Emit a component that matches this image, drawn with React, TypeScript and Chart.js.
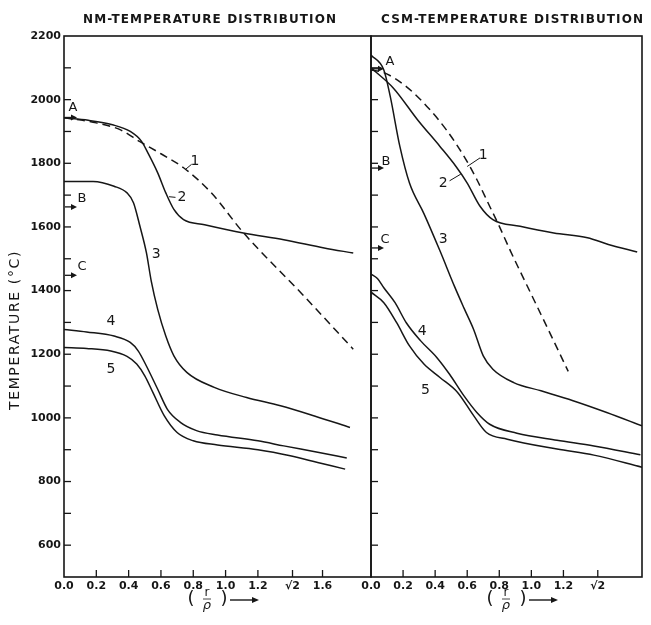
import React, { useEffect, useRef } from 'react';
import { Chart, registerables } from 'chart.js';

Chart.register(...registerables);

// ---------------- shared axis values ----------------
const yMin = 500;
const yMax = 2200;
const yMinorStep = 100;
const yLabelStep = 200;
const yFirstLabel = 600;
const yTitle = 'TEMPERATURE (°C)';

// ---------------- NM panel ----------------
const nmTitle = 'NM-TEMPERATURE DISTRIBUTION';
const nmXMax = 1.9;
const nmXTickValues = [0, 0.2, 0.4, 0.6, 0.8, 1.0, 1.2, Math.SQRT2, 1.6];
const nmXTickLabels = ['0.0', '0.2', '0.4', '0.6', '0.8', '1.0', '1.2', '√2', '1.6'];

const nm1X = [0, 0.2, 0.35, 0.47, 0.6, 0.74, 0.91, 1.11, 1.47, 1.79];
const nm1Y = [1943, 1927, 1905, 1868, 1830, 1786, 1708, 1582, 1391, 1216];

const nm2X = [0, 0.15, 0.3, 0.41, 0.48, 0.52, 0.58, 0.63, 0.68, 0.74, 0.87, 1.11, 1.36, 1.61, 1.79];
const nm2Y = [1943, 1935, 1921, 1900, 1869, 1832, 1770, 1707, 1655, 1623, 1607, 1581, 1560, 1534, 1518];

const nm3X = [0, 0.18, 0.31, 0.39, 0.43, 0.47, 0.51, 0.54, 0.58, 0.63, 0.68, 0.76, 0.93, 1.13, 1.34, 1.55, 1.77];
const nm3Y = [1743, 1743, 1728, 1707, 1676, 1602, 1519, 1430, 1341, 1257, 1195, 1143, 1096, 1064, 1038, 1006, 970];

const nm4X = [0, 0.14, 0.31, 0.41, 0.46, 0.51, 0.58, 0.64, 0.72, 0.82, 0.95, 1.2, 1.36, 1.57, 1.75];
const nm4Y = [1278, 1270, 1257, 1237, 1210, 1163, 1090, 1027, 986, 960, 946, 928, 912, 892, 874];

const nm5X = [0, 0.14, 0.29, 0.39, 0.45, 0.5, 0.55, 0.62, 0.7, 0.8, 0.95, 1.2, 1.4, 1.57, 1.74];
const nm5Y = [1221, 1218, 1210, 1193, 1169, 1132, 1080, 1007, 954, 928, 915, 900, 881, 860, 839];

const nmMarkerNames = ['A', 'B', 'C'];
const nmMarkerValues = [1944, 1663, 1448];

// ---------------- CSM panel ----------------
const csmTitle = 'CSM-TEMPERATURE DISTRIBUTION';
const csmXMax = 1.69;
const csmXTickValues = [0, 0.2, 0.4, 0.6, 0.8, 1.0, 1.2, Math.SQRT2];
const csmXTickLabels = ['0.0', '0.2', '0.4', '0.6', '0.8', '1.0', '1.2', '√2'];

const csm1X = [0, 0.08, 0.22, 0.35, 0.47, 0.58, 0.66, 0.74, 0.79, 0.87, 0.97, 1.06, 1.16, 1.23];
const csm1Y = [2093, 2085, 2041, 1978, 1905, 1822, 1749, 1665, 1613, 1524, 1419, 1325, 1220, 1146];

const csm2X = [0, 0.14, 0.29, 0.43, 0.53, 0.6, 0.68, 0.76, 0.93, 1.14, 1.35, 1.48, 1.66];
const csm2Y = [2100, 2036, 1937, 1853, 1790, 1738, 1665, 1623, 1602, 1581, 1566, 1545, 1521];

const csm3X = [0, 0.08, 0.12, 0.18, 0.24, 0.33, 0.43, 0.52, 0.58, 0.64, 0.7, 0.76, 0.89, 1.06, 1.26, 1.47, 1.69];
const csm3Y = [2140, 2093, 2010, 1853, 1738, 1642, 1525, 1414, 1345, 1278, 1195, 1153, 1111, 1085, 1054, 1017, 975];

const csm4X = [0, 0.04, 0.08, 0.15, 0.22, 0.31, 0.41, 0.49, 0.58, 0.66, 0.74, 0.91, 1.16, 1.39, 1.68];
const csm4Y = [1452, 1438, 1409, 1362, 1299, 1242, 1190, 1137, 1069, 1017, 980, 952, 930, 912, 884];

const csm5X = [0, 0.08, 0.16, 0.24, 0.33, 0.43, 0.54, 0.64, 0.72, 0.85, 1.16, 1.39, 1.69];
const csm5Y = [1395, 1362, 1299, 1226, 1169, 1127, 1080, 1007, 954, 933, 902, 883, 845];

const csmMarkerNames = ['A', 'B', 'C'];
const csmMarkerValues = [2097, 1785, 1534];

// ---------------- curve labels (data coordinates) ----------------
const curveNames = ['1', '2', '3', '4', '5'];
const nmLabelX = [0.81, 0.73, 0.57, 0.29, 0.29];
const nmLabelY = [1805, 1692, 1513, 1303, 1153];
const csmLabelX = [0.7, 0.45, 0.45, 0.32, 0.34];
const csmLabelY = [1824, 1736, 1560, 1273, 1085];

// leader lines for labels 1 and 2: [x1, y1, x2, y2] in data coords
const nmLeaders = [
  [0.75, 1780, 0.79, 1797],
  [0.65, 1695, 0.69, 1693],
];
const csmLeaders = [
  [0.6, 1790, 0.68, 1817],
  [0.49, 1745, 0.56, 1766],
];

// ---------------- styling ----------------
const INK = '#161616';
const FAMILY = '"DejaVu Sans", sans-serif';
const W = 651;
const H = 625;
const PLOT_TOP = 36;
const X_AXIS_H = 48;

type Panel = {
  id: string;
  title: string;
  titleX: number;
  xMax: number;
  xTicks: number[];
  xLabels: string[];
  series: { x: number[]; y: number[]; dashed: boolean }[];
  markerNames: string[];
  markerValues: number[];
  markerLetterDx: number[];
  markerLetterDy: number[];
  labelX: number[];
  labelY: number[];
  leaders: number[][];
  showY: boolean;
  padding: { left: number; right: number; top: number; bottom: number };
  xTitleX: number;
};

const panels: Panel[] = [
  {
    id: 'nm',
    title: nmTitle,
    titleX: 83,
    xMax: nmXMax,
    xTicks: nmXTickValues,
    xLabels: nmXTickLabels,
    series: [
      { x: nm1X, y: nm1Y, dashed: true },
      { x: nm2X, y: nm2Y, dashed: false },
      { x: nm3X, y: nm3Y, dashed: false },
      { x: nm4X, y: nm4Y, dashed: false },
      { x: nm5X, y: nm5Y, dashed: false },
    ],
    markerNames: nmMarkerNames,
    markerValues: nmMarkerValues,
    markerLetterDx: [9, 18, 18],
    markerLetterDy: [-10, -8, -9],
    labelX: nmLabelX,
    labelY: nmLabelY,
    leaders: nmLeaders,
    showY: true,
    padding: { left: 0, right: W - 371, top: PLOT_TOP, bottom: 0 },
    xTitleX: 191,
  },
  {
    id: 'csm',
    title: csmTitle,
    titleX: 381,
    xMax: csmXMax,
    xTicks: csmXTickValues,
    xLabels: csmXTickLabels,
    series: [
      { x: csm1X, y: csm1Y, dashed: true },
      { x: csm2X, y: csm2Y, dashed: false },
      { x: csm3X, y: csm3Y, dashed: false },
      { x: csm4X, y: csm4Y, dashed: false },
      { x: csm5X, y: csm5Y, dashed: false },
    ],
    markerNames: csmMarkerNames,
    markerValues: csmMarkerValues,
    markerLetterDx: [19, 15, 14],
    markerLetterDy: [-7, -6, -8],
    labelX: csmLabelX,
    labelY: csmLabelY,
    leaders: csmLeaders,
    showY: false,
    padding: { left: 371, right: W - 642, top: PLOT_TOP, bottom: 0 },
    xTitleX: 490,
  },
];

function spacedText(ctx: CanvasRenderingContext2D, text: string, x: number, y: number, font: string, width: number) {
  ctx.font = font;
  (ctx as any).letterSpacing = '0px';
  const w = ctx.measureText(text).width;
  const sp = Math.max(0, (width - w) / text.length);
  (ctx as any).letterSpacing = sp.toFixed(2) + 'px';
  ctx.textAlign = 'left';
  ctx.fillText(text, x, y);
  (ctx as any).letterSpacing = '0px';
}

function line(ctx: CanvasRenderingContext2D, x1: number, y1: number, x2: number, y2: number) {
  ctx.beginPath();
  ctx.moveTo(x1, y1);
  ctx.lineTo(x2, y2);
  ctx.stroke();
}

function makeDecor(p: Panel) {
  return {
    id: 'decor_' + p.id,
    afterDraw(chart: any) {
      const { ctx, chartArea: a, scales } = chart;
      const xs = scales.x;
      const ys = scales.y;
      ctx.save();
      ctx.strokeStyle = INK;
      ctx.fillStyle = INK;
      ctx.lineCap = 'butt';

      // frame
      ctx.lineWidth = 1.6;
      ctx.strokeRect(a.left, a.top, a.right - a.left, a.bottom - a.top);

      // inward y ticks
      ctx.lineWidth = 1.3;
      for (let v = yMin + yMinorStep; v < yMax; v += yMinorStep) {
        const y = ys.getPixelForValue(v);
        line(ctx, a.left, y, a.left + 7, y);
      }
      // inward x ticks
      for (const v of p.xTicks) {
        if (v === 0) continue;
        const x = xs.getPixelForValue(v);
        line(ctx, x, a.bottom, x, a.bottom - 7);
      }

      // panel title
      ctx.textBaseline = 'middle';
      spacedText(ctx, p.title, p.titleX, 19.5, `bold 12px ${FAMILY}`, p.id === 'nm' ? 254 : 263);

      // y title
      if (p.showY) {
        ctx.save();
        ctx.translate(15, 410);
        ctx.rotate(-Math.PI / 2);
        spacedText(ctx, yTitle, 0, 0, `14px ${FAMILY}`, 160);
        ctx.restore();
      }

      // markers A, B, C with arrows
      ctx.lineWidth = 1.3;
      p.markerNames.forEach((name, i) => {
        const y = ys.getPixelForValue(p.markerValues[i]);
        const x0 = a.left + 1;
        const x1 = a.left + 13;
        line(ctx, x0, y, x1 - 3, y);
        ctx.beginPath();
        ctx.moveTo(x1, y);
        ctx.lineTo(x1 - 6, y - 3);
        ctx.lineTo(x1 - 6, y + 3);
        ctx.closePath();
        ctx.fill();
        ctx.font = `13px ${FAMILY}`;
        ctx.textAlign = 'center';
        ctx.fillText(name, a.left + p.markerLetterDx[i], y + p.markerLetterDy[i]);
      });

      // curve labels
      ctx.font = `14px ${FAMILY}`;
      ctx.textAlign = 'center';
      curveNames.forEach((name, i) => {
        ctx.fillText(name, xs.getPixelForValue(p.labelX[i]), ys.getPixelForValue(p.labelY[i]));
      });
      ctx.lineWidth = 1;
      p.leaders.forEach((l) => {
        line(ctx, xs.getPixelForValue(l[0]), ys.getPixelForValue(l[1]), xs.getPixelForValue(l[2]), ys.getPixelForValue(l[3]));
      });

      // x title ( r / rho ) ->
      const x0 = p.xTitleX;
      const yc = 599;
      ctx.textAlign = 'center';
      ctx.font = `18px ${FAMILY}`;
      ctx.fillText('(', x0, yc);
      ctx.fillText(')', x0 + 33, yc);
      ctx.font = `12px ${FAMILY}`;
      ctx.fillText('r', x0 + 16, yc - 6);
      ctx.font = `italic 13px ${FAMILY}`;
      ctx.fillText('ρ', x0 + 16, yc + 7);
      ctx.lineWidth = 0.8;
      line(ctx, x0 + 12, yc, x0 + 20, yc);
      ctx.lineWidth = 1.4;
      line(ctx, x0 + 39, yc + 1, x0 + 63, yc + 1);
      ctx.beginPath();
      ctx.moveTo(x0 + 68, yc + 1);
      ctx.lineTo(x0 + 61, yc - 2);
      ctx.lineTo(x0 + 61, yc + 4);
      ctx.closePath();
      ctx.fill();

      ctx.restore();
    },
  };
}

function buildConfig(p: Panel): any {
  const tickFont = { family: FAMILY, size: 11, weight: 'bold' as const };
  return {
    type: 'line',
    data: {
      datasets: p.series.map((s, i) => ({
        label: curveNames[i],
        data: s.x.map((x, j) => ({ x, y: s.y[j] })),
        borderColor: INK,
        borderWidth: 1.5,
        borderDash: s.dashed ? [8, 5] : [],
        pointRadius: 0,
        fill: false,
        cubicInterpolationMode: 'monotone',
      })),
    },
    options: {
      responsive: false,
      animation: false,
      events: [],
      layout: { padding: p.padding },
      plugins: {
        legend: { display: false },
        tooltip: { enabled: false },
        title: { display: false },
      },
      scales: {
        x: {
          type: 'linear',
          min: 0,
          max: p.xMax,
          afterBuildTicks: (ax: any) => {
            ax.ticks = p.xTicks.map((v) => ({ value: v }));
          },
          afterFit: (ax: any) => {
            ax.height = X_AXIS_H;
          },
          grid: { display: false, drawTicks: false },
          border: { display: false },
          ticks: {
            autoSkip: false,
            maxRotation: 0,
            padding: 3,
            color: INK,
            font: tickFont,
            callback: (_v: any, i: number) => p.xLabels[i],
          },
        },
        y: {
          type: 'linear',
          display: p.showY,
          min: yMin,
          max: yMax,
          afterBuildTicks: (ax: any) => {
            const t = [];
            for (let v = yMin; v <= yMax; v += yMinorStep) t.push({ value: v });
            ax.ticks = t;
          },
          afterFit: (ax: any) => {
            ax.width = p.showY ? 64 : 0;
          },
          grid: { display: false, drawTicks: false },
          border: { display: false },
          ticks: {
            autoSkip: false,
            padding: 3,
            color: INK,
            font: tickFont,
            callback: (v: number) => (v >= yFirstLabel && v % yLabelStep === 0 ? String(v) : ''),
          },
        },
      },
    },
    plugins: [makeDecor(p)],
  };
}

function PanelCanvas({ panel }: { panel: Panel }) {
  const ref = useRef<HTMLCanvasElement | null>(null);
  useEffect(() => {
    if (!ref.current) return;
    const chart = new Chart(ref.current, buildConfig(panel));
    return () => chart.destroy();
  }, [panel]);
  return (
    <canvas
      ref={ref}
      width={W}
      height={H}
      style={{ position: 'absolute', left: 0, top: 0, width: W, height: H }}
    />
  );
}

export default function App() {
  return (
    <div style={{ position: 'fixed', left: 0, top: 0, width: W, height: H, background: '#ffffff', overflow: 'hidden' }}>
      {panels.map((p) => (
        <PanelCanvas key={p.id} panel={p} />
      ))}
    </div>
  );
}
